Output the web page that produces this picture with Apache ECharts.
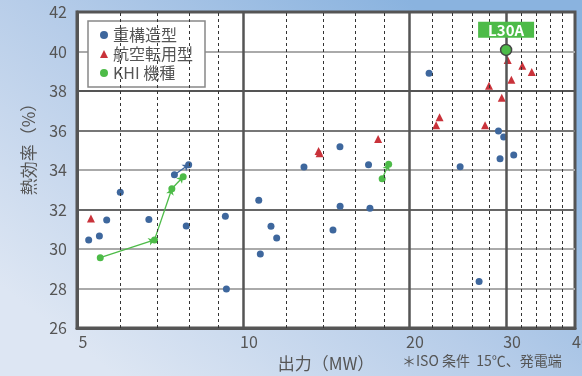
<!DOCTYPE html>
<html><head><meta charset="utf-8">
<script src="https://cdn.jsdelivr.net/npm/echarts@6/dist/echarts.min.js"></script>
<style>html,body{margin:0;padding:0;}#c{width:582px;height:376px;}</style>
</head><body><div id="c"></div>
<script>
// ---- data ----
const xTickLabels = [5, 10, 20, 30, 40];
const yTicks = [26, 28, 30, 32, 34, 36, 38, 40, 42];
const minorGridX = [6, 7, 8, 9, 12, 14, 16, 18, 22, 24, 26, 28, 32, 34, 36, 38];
const majorGridX = [10, 20, 30];

const heavyDuty = [ // 重構造型 [MW, %]
  [5.25, 30.45], [5.49, 30.66], [5.66, 31.47], [5.99, 32.87], [6.75, 31.50],
  [7.89, 31.16], [7.51, 33.76], [7.97, 34.27], [9.29, 31.66], [9.33, 27.98],
  [10.68, 32.47], [10.75, 29.75], [11.24, 31.15], [11.51, 30.56], [12.9, 34.15],
  [14.99, 35.18], [16.89, 34.27], [15.0, 32.16], [16.99, 32.06], [14.56, 30.96],
  [21.75, 38.90], [24.76, 34.17], [29.06, 35.97], [29.7, 35.67], [29.25, 34.57],
  [30.97, 34.76], [26.8, 28.36]
];
const aeroDerivative = [ // 航空転用型
  [5.30, 31.55], [13.71, 34.96], [13.77, 34.85], [17.58, 35.57], [22.72, 36.67],
  [22.4, 36.26], [27.48, 36.26], [27.93, 38.27], [29.46, 37.66], [30.2, 39.57],
  [30.67, 38.57], [32.1, 39.28], [33.39, 38.96]
];
const khi = [ // KHI 機種
  [5.51, 29.56], [6.91, 30.46], [7.43, 33.05], [7.79, 33.66], [17.88, 33.56], [18.37, 34.29]
];
const l30a = [[30.0, 40.08]];
const khiLinks = [
  [[5.51, 29.56], [6.91, 30.46]],
  [[6.91, 30.46], [7.43, 33.05]],
  [[7.43, 33.05], [7.79, 33.66]],
  [[17.88, 33.56], [18.37, 34.29]]
];
const heavyLinks = [
  [[7.51, 33.76], [7.97, 34.27]]
];

const BLUE = '#3e679d', RED = '#c9323a', GREEN = '#4dbb48';
const FONT = '"Noto Sans CJK JP", "Noto Sans", sans-serif';

const chart = echarts.init(document.getElementById('c'));
chart.setOption({
  backgroundColor: {
    type: 'linear', x: 0.7, y: 0, x2: 0.2, y2: 1,
    colorStops: [{offset: 0, color: '#8ab3df'}, {offset: 0.5, color: '#b7cde9'}, {offset: 1, color: '#dde6f3'}]
  },
  animation: false,
  textStyle: {fontFamily: FONT},
  grid: {left: 77, top: 12, right: 7, bottom: 48, show: true, backgroundColor: '#fff',
         borderColor: '#555', borderWidth: 3, containLabel: false, outerBoundsMode: 'none'},
  legend: {
    left: 88, top: 21, orient: 'vertical', backgroundColor: '#fff',
    borderColor: '#888', borderWidth: 1.5, padding: [6, 12, 6, 12], itemGap: 3,
    itemWidth: 8, itemHeight: 8,
    textStyle: {fontSize: 16, color: '#555', fontFamily: FONT},
    data: [
      {name: '重構造型', icon: 'circle'},
      {name: '航空転用型', icon: 'triangle'},
      {name: 'KHI 機種', icon: 'circle'}
    ]
  },
  xAxis: {
    type: 'log', logBase: 10, min: 5, max: 40,
    name: '出力（MW）', nameLocation: 'middle', nameGap: 26,
    nameTextStyle: {fontSize: 17, color: '#555', fontFamily: FONT},
    axisLine: {show: true, lineStyle: {color: '#555', width: 3}},
    axisTick: {show: false},
    splitLine: {show: false},
    axisLabel: {customValues: xTickLabels, fontSize: 16, color: '#555', margin: 6,
                padding: [0, 0, 0, 12], showMinLabel: true, showMaxLabel: true}
  },
  yAxis: {
    type: 'value', min: 26, max: 42, interval: 2,
    name: '熱効率（%）', nameLocation: 'middle', nameGap: 40,
    nameTextStyle: {fontSize: 17, color: '#555', fontFamily: FONT, padding: [0, 0, 0, 50]},
    axisLine: {show: true, lineStyle: {color: '#555', width: 3}},
    axisTick: {show: false},
    axisLabel: {fontSize: 16, color: '#555', margin: 10},
    splitLine: {show: true, lineStyle: {width: 2,
      color: ['#555', '#aaa', '#aaa', '#666', '#aaa', '#777', '#555', '#aaa', '#555']}}
  },
  series: [
    {
      type: 'scatter', name: 'grid', data: [], z: 1, silent: true,
      markLine: {
        silent: true, symbol: ['none', 'none'], label: {show: false},
        data: minorGridX.map(v => ({xAxis: v, lineStyle: {color: '#333', width: 1, type: [3, 3]}}))
          .concat(majorGridX.map(v => ({xAxis: v, lineStyle: {color: '#555', width: 2.5, type: 'solid'}})))
      }
    },
    {
      type: 'lines', coordinateSystem: 'cartesian2d', z: 2, silent: true,
      symbol: ['none', 'arrow'], symbolSize: 6,
      lineStyle: {color: GREEN, width: 1.3, opacity: 1},
      data: khiLinks.map(c => ({coords: c}))
    },
    {
      type: 'lines', coordinateSystem: 'cartesian2d', z: 2, silent: true,
      symbol: ['none', 'arrow'], symbolSize: 6,
      lineStyle: {color: BLUE, width: 1.3, opacity: 1},
      data: heavyLinks.map(c => ({coords: c}))
    },
    {type: 'scatter', name: '重構造型', symbol: 'circle', symbolSize: 7, z: 3,
     itemStyle: {color: BLUE, opacity: 1}, data: heavyDuty},
    {type: 'scatter', name: '航空転用型', symbol: 'triangle', symbolSize: 8, z: 3,
     itemStyle: {color: RED, opacity: 1}, data: aeroDerivative},
    {type: 'scatter', name: 'KHI 機種', symbol: 'circle', symbolSize: 7, z: 4,
     itemStyle: {color: GREEN, opacity: 1}, data: khi},
    {type: 'scatter', name: 'L30A', symbol: 'circle', symbolSize: 11, z: 5,
     itemStyle: {color: GREEN, borderColor: '#444', borderWidth: 1.5, opacity: 1},
     label: {show: true, position: 'top', distance: 6, formatter: 'L30A',
             color: '#fff', fontSize: 15, fontWeight: 'bold', backgroundColor: GREEN,
             padding: [1, 10, 0, 10], fontFamily: FONT},
     data: l30a}
  ],
  graphic: [{
    type: 'text', left: 402, top: 354,
    style: {text: '＊ISO 条件  15℃、発電端', fontSize: 14, fill: '#555', fontFamily: FONT}
  }]
});
</script>
</body></html>
